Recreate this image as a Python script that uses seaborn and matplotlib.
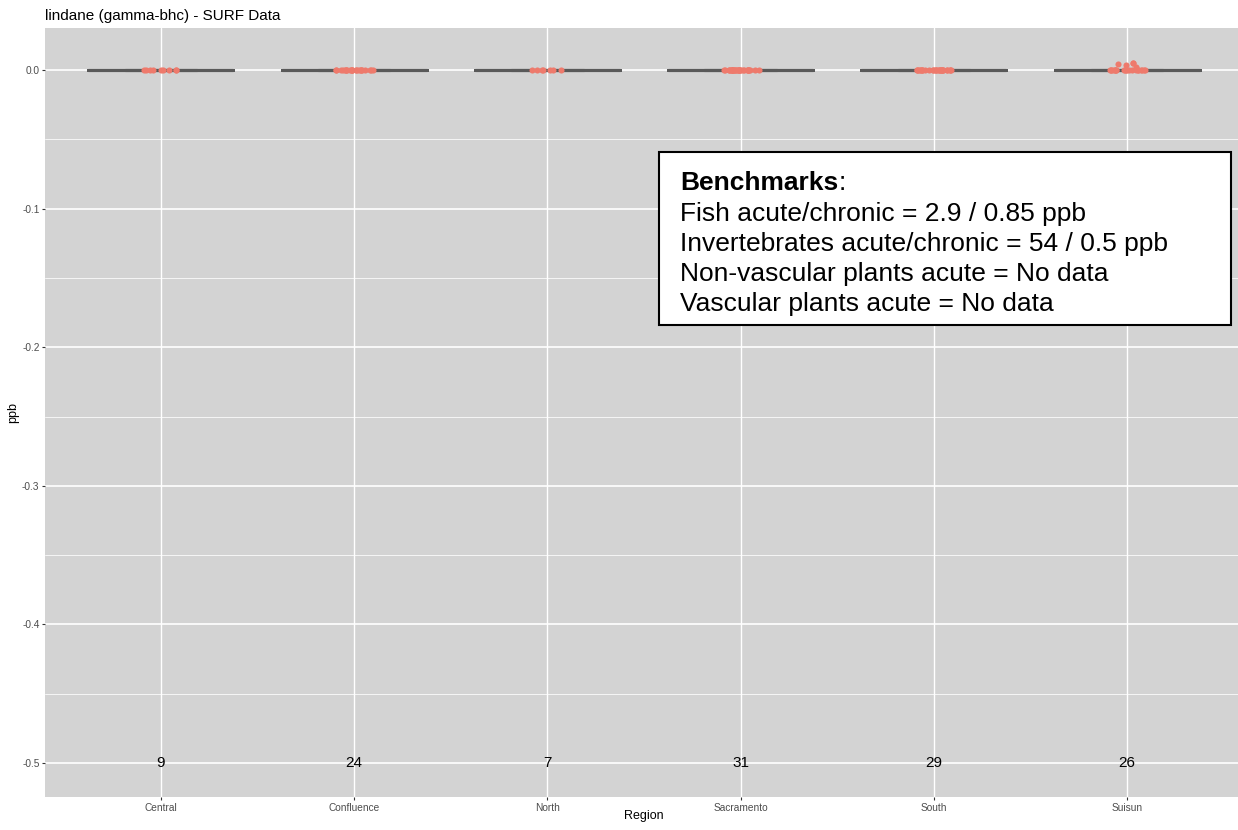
import numpy as np
import pandas as pd
import matplotlib
matplotlib.use("Agg")
import matplotlib.pyplot as plt
from matplotlib.patches import Rectangle
import seaborn as sns

# ---------------- data ----------------
regions = ["Central", "Confluence", "North", "Sacramento", "South", "Suisun"]
central = [0.0] * 9
confluence = [0.0] * 24
north = [0.0] * 7
sacramento = [0.0] * 31
south = [0.0] * 29
suisun = [0.0] * 21 + [0.002, 0.005, 0.0035, 0.004, 0.005]
y_ticks = [0.0, -0.1, -0.2, -0.3, -0.4, -0.5]
y_tick_labels = ["0.0", "-0.1", "-0.2", "-0.3", "-0.4", "-0.5"]
title = "lindane (gamma-bhc) - SURF Data"
bench_title = "Benchmarks"
bench_lines = [
    "Fish acute/chronic = 2.9 / 0.85 ppb",
    "Invertebrates acute/chronic = 54 / 0.5 ppb",
    "Non-vascular plants acute = No data",
    "Vascular plants acute = No data",
]

values = [central, confluence, north, sacramento, south, suisun]
df = pd.DataFrame({
    "Region": np.concatenate([[r] * len(v) for r, v in zip(regions, values)]),
    "ppb": np.concatenate(values),
})
counts = df.groupby("Region")["ppb"].size().reindex(regions)

# ---------------- style ----------------
sns.set_theme(style="white")
plt.rcParams["font.family"] = ["Liberation Sans", "DejaVu Sans"]
plt.rcParams["axes.unicode_minus"] = False
plt.rcParams["text.color"] = "black"

W, H = 1238, 830
fig = plt.figure(figsize=(W / 100, H / 100), dpi=100)
px_l, px_r, px_t, px_b = 45, 1243, 28, 797
ax = fig.add_axes([px_l / W, 1 - px_b / H, (px_r - px_l) / W, (px_b - px_t) / H])
ax.set_facecolor("#D3D3D3")
for s in ax.spines.values():
    s.set_visible(False)

box_color = "#595959"
sns.boxplot(data=df, x="Region", y="ppb", order=regions, width=0.75,
            showfliers=False, fill=False, color=box_color, linecolor=box_color,
            linewidth=2.2, ax=ax, zorder=2)
np.random.seed(3)
sns.stripplot(data=df, x="Region", y="ppb", order=regions, jitter=0.1,
              color="#EE7A6C", size=4.4, linewidth=0, ax=ax, zorder=3)

for i, r in enumerate(regions):
    ax.text(i, -0.5, str(counts[r]), ha="center", va="center",
            fontsize=11, color="black", zorder=4)

ax.set_xlim(-0.6, 5.6)
ax.set_ylim(-0.5245, 0.0303)
ax.set_yticks(y_ticks)
ax.set_yticklabels(y_tick_labels)
ax.set_yticks([-0.05, -0.15, -0.25, -0.35, -0.45], minor=True)
ax.grid(True, which="major", axis="y", color="white", linewidth=1.2, zorder=0)
ax.grid(True, which="minor", axis="y", color="white", linewidth=0.55, zorder=0)
ax.grid(True, which="major", axis="x", color="white", linewidth=1.0, zorder=0)
ax.set_axisbelow(True)
ax.tick_params(axis="both", which="major", length=2.5, width=0.8, color="#333333",
               labelsize=7.3, labelcolor="#4D4D4D", pad=1.5, direction="out",
               bottom=True, left=True)
ax.tick_params(axis="y", which="minor", length=0)

ax.set_xlabel("Region", fontsize=9, color="black")
ax.set_ylabel("ppb", fontsize=9, color="black")
ax.xaxis.set_label_coords(0.5, -0.017)
ax.yaxis.set_label_coords(-0.0217, 0.5)

def fx(x):
    return x / W

def fy(y):
    return 1 - y / H

fig.text(fx(45), fy(20), title, fontsize=11, color="black", va="baseline", ha="left")

# benchmark box
bx_l, bx_r, bx_t, bx_b = 659, 1231, 152, 325
fig.patches.append(Rectangle((fx(bx_l), fy(bx_b)), fx(bx_r) - fx(bx_l), fy(bx_t) - fy(bx_b),
                             transform=fig.transFigure, facecolor="white",
                             edgecolor="black", linewidth=1.5, zorder=5))
fs = 19
t1 = fig.text(fx(680), fy(190), bench_title, fontsize=fs, fontweight="bold",
              color="black", va="baseline", ha="left", zorder=6)
fig.canvas.draw()
bb = t1.get_window_extent()
fig.text(bb.x1 / W + 0.0005, fy(190), ":", fontsize=fs, color="black",
         va="baseline", ha="left", zorder=6)
for k, line in enumerate(bench_lines):
    fig.text(fx(680), fy(221 + 30 * k), line, fontsize=fs, color="black",
             va="baseline", ha="left", zorder=6)

fig.savefig("out.png", dpi=100)
